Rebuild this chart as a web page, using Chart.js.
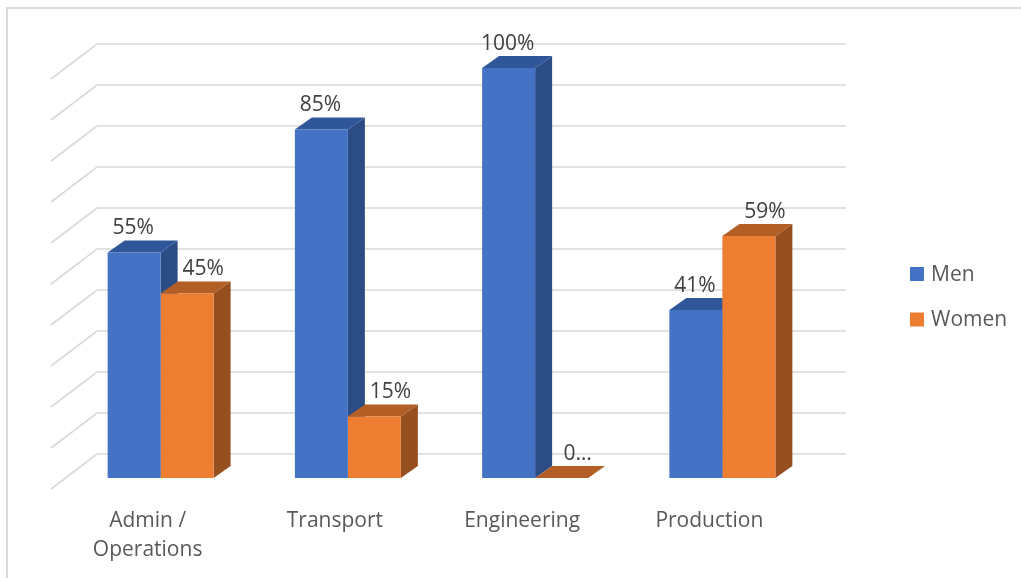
<!DOCTYPE html>
<html>
<head>
<meta charset="utf-8">
<script src="https://cdn.jsdelivr.net/npm/chart.js@4.4.1/dist/chart.umd.min.js"></script>
<style>
  html, body { margin: 0; padding: 0; background: #ffffff; }
  #c { display: block; }
</style>
</head>
<body>
<canvas id="c" width="1021" height="578"></canvas>
<script>
// ---- data ----
const categories = [['Admin /', 'Operations'], 'Transport', 'Engineering', 'Production'];
const seriesNames = ['Men', 'Women'];
const menValues = [55, 85, 100, 41];
const womenValues = [45, 15, 0, 59];
const menLabels = ['55%', '85%', '100%', '41%'];
const womenLabels = ['45%', '15%', '0…', '59%'];
const valueTicks = [0, 10, 20, 30, 40, 50, 60, 70, 80, 90, 100];

// ---- styles ----
const FONT = '"Open Sans", "Noto Sans", sans-serif';
const frontColors = ['#4472C4', '#ED7D31'];
const topColors = ['#30569A', '#B25E25'];
const sideColors = ['#2B4C85', '#964F1F'];
const labelOffsets = [-1, 16];
const DEPTH_X = 17, DEPTH_Y = 12;     // bar depth projection
const WALL_X = 30, WALL_Y = 24;       // bar plane -> back wall
const SIDE_X = 46, SIDE_Y = 35;       // side wall depth

const threeD = {
  id: 'threeD',
  beforeDraw(chart) {
    const ctx = chart.ctx;
    const ca = chart.chartArea;
    const y = chart.scales.y;
    ctx.save();
    // outer border
    ctx.strokeStyle = '#D9D9D9';
    ctx.lineWidth = 2;
    ctx.beginPath();
    ctx.moveTo(7, 578);
    ctx.lineTo(7, 8);
    ctx.lineTo(1021, 8);
    ctx.stroke();
    // gridlines: back wall + side wall
    ctx.strokeStyle = '#D9D9D9';
    ctx.lineWidth = 1.6;
    valueTicks.forEach(v => {
      const yb = y.getPixelForValue(v) - WALL_Y;
      const xb = ca.left + WALL_X;
      ctx.beginPath();
      ctx.moveTo(xb - SIDE_X, yb + SIDE_Y);
      ctx.lineTo(xb, yb);
      ctx.lineTo(ca.right + WALL_X, yb);
      ctx.stroke();
    });
    ctx.restore();
  },
  beforeDatasetsDraw(chart) {
    const ctx = chart.ctx;
    ctx.save();
    const n = chart.data.labels.length;
    for (let i = 0; i < n; i++) {
      chart.data.datasets.forEach((ds, di) => {
        const bar = chart.getDatasetMeta(di).data[i];
        const left = bar.x - bar.width / 2;
        const right = bar.x + bar.width / 2;
        const top = bar.y, base = bar.base;
        // side face
        ctx.fillStyle = sideColors[di];
        ctx.beginPath();
        ctx.moveTo(right, top);
        ctx.lineTo(right + DEPTH_X, top - DEPTH_Y);
        ctx.lineTo(right + DEPTH_X, base - DEPTH_Y);
        ctx.lineTo(right, base);
        ctx.closePath();
        ctx.fill();
        // top face
        ctx.fillStyle = topColors[di];
        ctx.beginPath();
        ctx.moveTo(left, top);
        ctx.lineTo(right, top);
        ctx.lineTo(right + DEPTH_X, top - DEPTH_Y);
        ctx.lineTo(left + DEPTH_X, top - DEPTH_Y);
        ctx.closePath();
        ctx.fill();
      });
    }
    ctx.restore();
  },
  afterDatasetsDraw(chart) {
    const ctx = chart.ctx;
    ctx.save();
    ctx.font = '21px ' + FONT;
    ctx.fillStyle = '#404040';
    ctx.textAlign = 'center';
    ctx.textBaseline = 'middle';
    const texts = [menLabels, womenLabels];
    chart.data.datasets.forEach((ds, di) => {
      chart.getDatasetMeta(di).data.forEach((bar, i) => {
        ctx.fillText(texts[di][i], bar.x + labelOffsets[di], bar.y - 24);
      });
    });
    // legend
    ctx.textAlign = 'left';
    chart.data.datasets.forEach((ds, di) => {
      const cy = 274 + di * 45.5;
      ctx.fillStyle = frontColors[di];
      ctx.fillRect(910, cy - 7, 14, 14);
      ctx.fillStyle = '#595959';
      ctx.fillText(ds.label, 931, cy + 1);
    });
    ctx.restore();
  }
};

new Chart(document.getElementById('c'), {
  type: 'bar',
  data: {
    labels: categories,
    datasets: [
      { label: seriesNames[0], data: menValues, backgroundColor: frontColors[0], borderWidth: 0 },
      { label: seriesNames[1], data: womenValues, backgroundColor: frontColors[1], borderWidth: 0 }
    ]
  },
  options: {
    responsive: false,
    animation: false,
    devicePixelRatio: 1,
    layout: { padding: { left: 67, right: 205, top: 68, bottom: 0 } },
    datasets: { bar: { categoryPercentage: 0.566, barPercentage: 1.0 } },
    plugins: { legend: { display: false }, tooltip: { enabled: false } },
    scales: {
      x: {
        grid: { display: false, drawTicks: false },
        border: { display: false },
        ticks: {
          font: { family: FONT, size: 21, lineHeight: 1.38 },
          color: '#595959',
          padding: 29,
          labelOffset: -13,
          maxRotation: 0,
          autoSkip: false
        },
        afterFit(s) { s.height = 100; }
      },
      y: {
        display: false,
        min: 0,
        max: 100,
        ticks: { stepSize: 10 }
      }
    }
  },
  plugins: [threeD]
});
</script>
</body>
</html>
